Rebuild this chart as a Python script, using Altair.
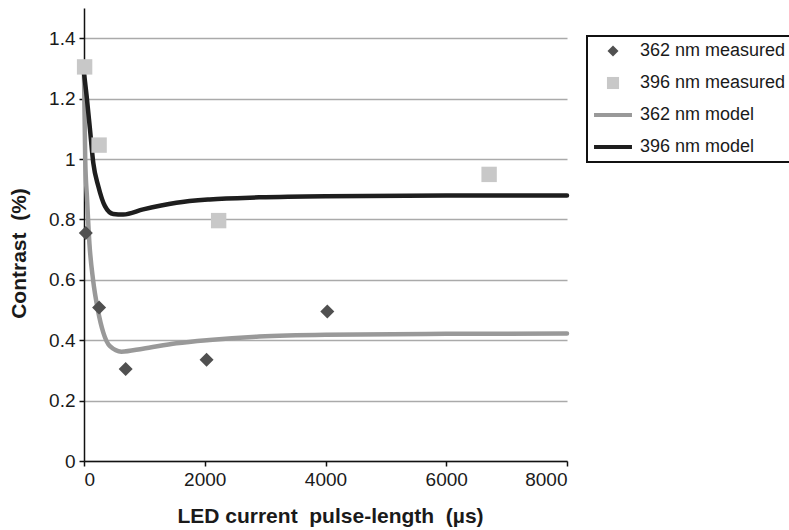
import altair as alt
import pandas as pd

# ---- data ----
series_names = ["362 nm measured", "396 nm measured", "362 nm model", "396 nm model"]
series_colors = ["#505050", "#c8c8c8", "#999999", "#1e1e1e"]

m362_x = [30, 250, 690, 2030, 4030]
m362_y = [0.755, 0.508, 0.305, 0.335, 0.495]

m396_x = [10, 250, 2230, 6710]
m396_y = [1.305, 1.046, 0.796, 0.949]

model362_x = [0, 20, 50, 90, 150, 230, 320, 430, 620, 975, 1530, 2080, 2900, 4000, 6000, 8000]
model362_y = [1.28, 1.0, 0.87, 0.72, 0.60, 0.50, 0.425, 0.38, 0.362, 0.372, 0.390, 0.401, 0.412, 0.418, 0.421, 0.422]

model396_x = [0, 44, 99, 154, 237, 347, 485, 650, 980, 1530, 2080, 2900, 4000, 6000, 8000]
model396_y = [1.285, 1.208, 1.098, 0.987, 0.91, 0.844, 0.818, 0.816, 0.833, 0.855, 0.866, 0.873, 0.877, 0.879, 0.879]

x_ticks = [0, 2000, 4000, 6000, 8000]
y_ticks = [0, 0.2, 0.4, 0.6, 0.8, 1, 1.2, 1.4]

points = pd.DataFrame({
    "x": m362_x + m396_x,
    "y": m362_y + m396_y,
    "series": [series_names[0]] * len(m362_x) + [series_names[1]] * len(m396_x),
})
lines = pd.DataFrame({
    "x": model362_x + model396_x,
    "y": model362_y + model396_y,
    "series": [series_names[2]] * len(model362_x) + [series_names[3]] * len(model396_x),
})

DIAMOND = "M0,-1L1,0L0,1L-1,0Z"
SQUARE = "M-1.1,-1.1H1.1V1.1H-1.1Z"
LINE = "M-3.45,-0.36H3.45V0.36H-3.45Z"

FONT = "Liberation Sans"

color_scale = alt.Scale(domain=series_names, range=series_colors)
shape_scale = alt.Scale(domain=series_names, range=[DIAMOND, SQUARE, LINE, LINE])

x_enc = alt.X(
    "x:Q",
    scale=alt.Scale(domain=[0, 8000], nice=False),
    axis=alt.Axis(values=x_ticks, format="d", grid=False,
                  title="LED current\u00a0 pulse-length\u00a0 (µs)",
                  titleX=246, titleY=55, titleBaseline="middle", titleAlign="center"),
)
y_enc = alt.Y(
    "y:Q",
    scale=alt.Scale(domain=[0, 1.5], nice=False),
    axis=alt.Axis(values=y_ticks, format="~g", grid=True,
                  title="Contrast\u00a0 (%)",
                  titleX=-65, titleY=245, titleAngle=-90,
                  titleBaseline="middle", titleAlign="center"),
)

line_layer = alt.Chart(lines).mark_line(
    strokeWidth=4.5, strokeCap="round", interpolate="monotone"
).encode(
    x=x_enc, y=y_enc,
    stroke=alt.Stroke("series:N",
                      scale=alt.Scale(domain=series_names[2:], range=series_colors[2:]),
                      legend=None),
    detail="series:N",
)

legend_def = alt.Legend(title=None, orient="none", legendX=503, legendY=28)

point_layer = alt.Chart(points).mark_point(
    filled=True, size=196, opacity=1, strokeWidth=0
).encode(
    x=x_enc, y=y_enc,
    color=alt.Color("series:N", scale=color_scale, legend=legend_def),
    shape=alt.Shape("series:N", scale=shape_scale, legend=legend_def),
)

chart = alt.layer(line_layer, point_layer).properties(
    width=483, height=453,
    autosize=alt.AutoSizeParams(type="none"),
    padding={"left": 84, "top": 8, "right": 222, "bottom": 69},
    background="white",
).configure_view(
    stroke=None
).configure_axis(
    labelFont=FONT, titleFont=FONT,
    labelFontSize=19, titleFontSize=21, titleFontWeight="bold",
    labelColor="#1a1a1a", titleColor="#1a1a1a",
    domainColor="#111111", domainWidth=1.5,
    tickColor="#111111", tickSize=5, tickWidth=1.5,
    gridColor="#aaaaaa", gridWidth=1.5,
    labelPadding=4,
).configure_legend(
    labelFont=FONT, labelFontSize=18, labelColor="#1a1a1a",
    symbolSize=121, symbolStrokeWidth=0,
    strokeColor="#111111", strokeWidth=2, fillColor="white",
    padding=6, rowPadding=14, symbolOffset=11, labelOffset=18,
    labelLimit=400,
)

chart.save("out.html", embed_options={"renderer": "svg", "actions": False})
